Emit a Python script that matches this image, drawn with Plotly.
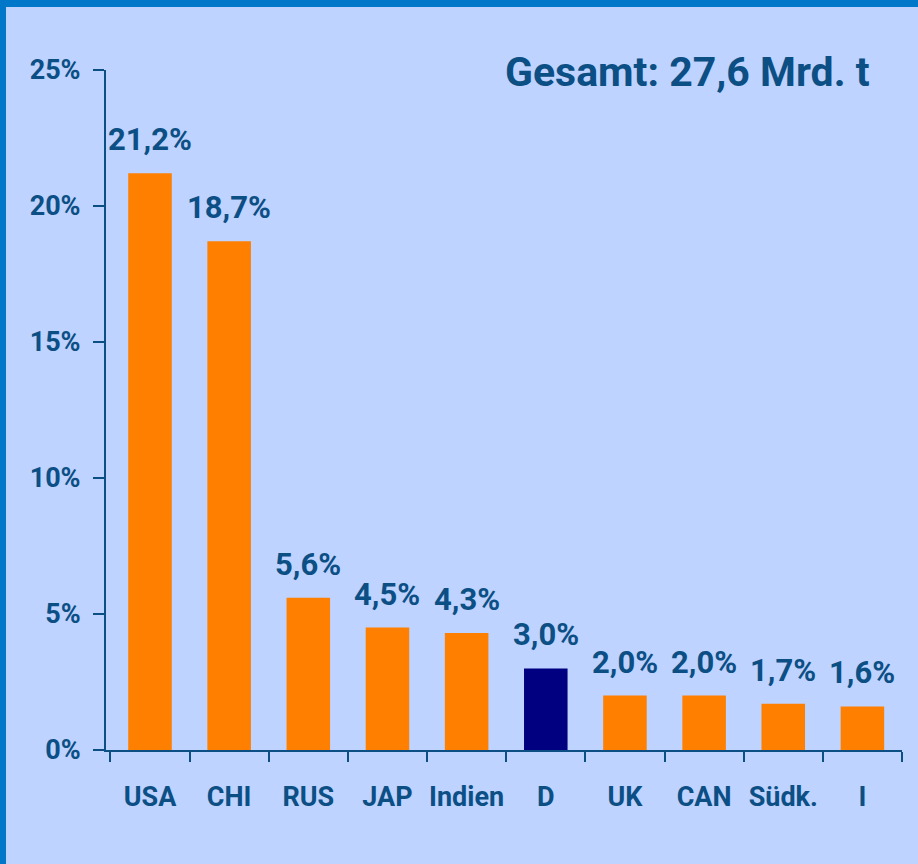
import plotly.graph_objects as go

countries = ["USA", "CHI", "RUS", "JAP", "Indien", "D", "UK", "CAN", "Südk.", "I"]
shares = [21.2, 18.7, 5.6, 4.5, 4.3, 3.0, 2.0, 2.0, 1.7, 1.6]
share_labels = ["21,2%", "18,7%", "5,6%", "4,5%", "4,3%", "3,0%", "2,0%", "2,0%", "1,7%", "1,6%"]
y_ticks = [0, 5, 10, 15, 20, 25]
y_tick_labels = ["0%", "5%", "10%", "15%", "20%", "25%"]
total_label = "Gesamt: 27,6 Mrd. t"

ORANGE = "#FF7F00"
NAVY = "#000080"
TEXT = "#0C4F85"
BG = "#BED3FF"
FRAME = "#0077C8"
FONT = "Roboto"

bar_colors = [NAVY if c == "D" else ORANGE for c in countries]

fig = go.Figure(go.Bar(
    x=countries,
    y=shares,
    marker=dict(color=bar_colors, line=dict(width=0)),
    width=0.55,
    hoverinfo="skip",
))

# value labels above the bars
for c, v, t in zip(countries, shares, share_labels):
    fig.add_annotation(
        x=c, y=v, text="<b>%s</b>" % t, showarrow=False,
        yanchor="bottom", yshift=13,
        font=dict(size=31, color=TEXT, family=FONT),
    )

fig.add_annotation(
    x=0.962, y=0.997, xref="paper", yref="paper",
    xanchor="right", yanchor="middle",
    text="<b>%s</b>" % total_label, showarrow=False,
    font=dict(size=41, color=TEXT, family=FONT),
)

# blue frame along the top and left edge
W, H = 918, 864
L, R, T, B = 106, 16, 70, 114
pw, ph = W - L - R, H - T - B
fig.add_shape(type="rect", xref="paper", yref="paper",
              x0=-L / pw, x1=(W - L) / pw, y0=1 + (T - 7) / ph, y1=1 + T / ph,
              fillcolor=FRAME, line=dict(width=0), layer="above")
fig.add_shape(type="rect", xref="paper", yref="paper",
              x0=-L / pw, x1=(6 - L) / pw, y0=-B / ph, y1=1 + T / ph,
              fillcolor=FRAME, line=dict(width=0), layer="above")

fig.update_layout(
    width=W, height=H,
    margin=dict(l=L, r=R, t=T, b=B),
    paper_bgcolor=BG,
    plot_bgcolor=BG,
    showlegend=False,
    bargap=0.45,
    font=dict(family=FONT, color=TEXT),
    xaxis=dict(
        showgrid=False,
        showline=True, linecolor=TEXT, linewidth=2,
        ticks="outside", ticklen=10, tickwidth=2, tickcolor=TEXT,
        tickson="boundaries", tickangle=0,
        tickfont=dict(size=27, color=TEXT, family=FONT),
        tickprefix="<b>", ticksuffix="</b>",
        ticklabelstandoff=22,
    ),
    yaxis=dict(
        range=[0, 25],
        tickvals=y_ticks, ticktext=["<b>%s</b>" % t for t in y_tick_labels],
        showgrid=False, zeroline=False,
        showline=True, linecolor=TEXT, linewidth=2,
        ticks="outside", ticklen=11, tickwidth=2, tickcolor=TEXT,
        tickfont=dict(size=27, color=TEXT, family=FONT),
        ticklabelstandoff=7,
    ),
)

fig.write_html("out.html", config={"displayModeBar": False},
               post_script="document.body.style.margin='0';")
